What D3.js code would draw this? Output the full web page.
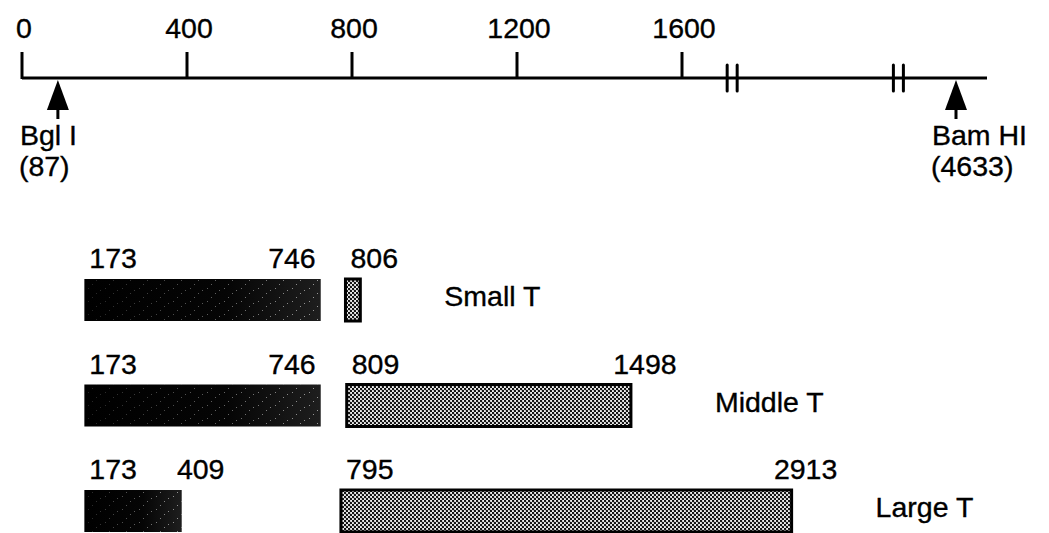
<!DOCTYPE html>
<html>
<head>
<meta charset="utf-8">
<script src="https://cdn.jsdelivr.net/npm/d3@7"></script>
<style>
  body { margin: 0; background: #fff; }
  svg { display: block; font-family: "Liberation Sans", Arial, Helvetica, sans-serif; }
  text { stroke: #000; stroke-width: 0.35px; }
</style>
</head>
<body>
<svg id="chart" width="1049" height="533"></svg>
<script>
// ====================================
// Données de la carte (positions en nucléotides)
// ====================================
const tickValues = [0, 400, 800, 1200, 1600];
const axisEnd = 4930;
const axisBreaks = [2100, 3940];

const siteNames = ["Bgl I", "Bam HI"];
const sitePositions = [87, 4633];

const antigens = ["Small T", "Middle T", "Large T"];
// exons de chaque antigène : [début, fin]
const smallTExons = [[173, 746], [806, 842]];
const middleTExons = [[173, 746], [809, 1498]];
const largeTExons = [[173, 409], [795, 2913]];
// fin affichée ou non au-dessus de chaque exon
const smallTEndShown = [true, false];
const middleTEndShown = [true, true];
const largeTEndShown = [true, true];

const exonSets = [smallTExons, middleTExons, largeTExons];
const endShownSets = [smallTEndShown, middleTEndShown, largeTEndShown];

// ====================================
// Échelles
// ====================================
const svg = d3.select("#chart");
const FONT = 28.5;

// l'axe est coupé après 1600 : échelle linéaire par morceaux
const x = d3.scaleLinear()
    .domain([0, 1600, 4633, axisEnd])
    .range([22, 682, 956, 987]);

const axisY = 78;
const rowTop = d3.scalePoint()
    .domain(antigens)
    .range([279, 490]);
const barH = 42;
const exonShift = -9;   // les exons sont dessinés un peu à gauche de l'axe

// ====================================
// Motifs de remplissage
// ====================================
const defs = svg.append("defs");

const grad = defs.append("linearGradient")
    .attr("id", "darkExon")
    .attr("x1", "0%").attr("x2", "100%");
grad.append("stop").attr("offset", "0%").attr("stop-color", "#000");
grad.append("stop").attr("offset", "60%").attr("stop-color", "#050505");
grad.append("stop").attr("offset", "100%").attr("stop-color", "#1e1e1e");

// mouchetures claires sur les exons foncés
const speck = defs.append("pattern")
    .attr("id", "speckle")
    .attr("patternUnits", "userSpaceOnUse")
    .attr("width", 17).attr("height", 13);
[[3, 2], [11, 7], [7, 11], [15, 4]].forEach(p => {
    speck.append("rect")
        .attr("x", p[0]).attr("y", p[1])
        .attr("width", 1).attr("height", 1)
        .attr("fill", "#fff").attr("opacity", 0.55);
});

const fadeMask = defs.append("linearGradient")
    .attr("id", "fadeGrad")
    .attr("x1", "0%").attr("x2", "100%");
fadeMask.append("stop").attr("offset", "0%").attr("stop-color", "#fff").attr("stop-opacity", 0.25);
fadeMask.append("stop").attr("offset", "100%").attr("stop-color", "#fff").attr("stop-opacity", 1);
defs.append("mask")
    .attr("id", "fade")
    .attr("maskContentUnits", "objectBoundingBox")
    .append("rect")
    .attr("width", 1).attr("height", 1)
    .attr("fill", "url(#fadeGrad)");

const dots = defs.append("pattern")
    .attr("id", "dotted")
    .attr("patternUnits", "userSpaceOnUse")
    .attr("width", 4).attr("height", 4);
dots.append("rect").attr("width", 4).attr("height", 4).attr("fill", "#eee");
dots.append("circle").attr("cx", 1).attr("cy", 1).attr("r", 1.25).attr("fill", "#111");
dots.append("circle").attr("cx", 3).attr("cy", 3).attr("r", 1.25).attr("fill", "#111");

// ====================================
// Axe en nucléotides
// ====================================
const axisG = svg.append("g");

axisG.append("line")
    .attr("x1", x(0)).attr("x2", x(axisEnd))
    .attr("y1", axisY).attr("y2", axisY)
    .attr("stroke", "#000").attr("stroke-width", 3);

axisG.selectAll("line.tick")
    .data(tickValues)
    .join("line")
    .attr("class", "tick")
    .attr("x1", d => x(d)).attr("x2", d => x(d))
    .attr("y1", axisY - 26).attr("y2", axisY + 1)
    .attr("stroke", "#000").attr("stroke-width", 3);

axisG.selectAll("text.tick-label")
    .data(tickValues)
    .join("text")
    .attr("class", "tick-label")
    .attr("x", d => x(d) + 2)
    .attr("y", 38)
    .attr("text-anchor", "middle")
    .style("font-size", FONT + "px")
    .text(d => d);

// marques de coupure (double barre)
axisBreaks.forEach(b => {
    [0, 10].forEach(dx => {
        axisG.append("line")
            .attr("x1", x(b) + dx).attr("x2", x(b) + dx)
            .attr("y1", axisY - 13).attr("y2", axisY + 13)
            .attr("stroke", "#000").attr("stroke-width", 3)
            .attr("stroke-linecap", "round");
    });
});

// ====================================
// Sites de restriction
// ====================================
const siteG = svg.selectAll("g.site")
    .data(siteNames.map((n, i) => ({ name: n, pos: sitePositions[i], i })))
    .join("g")
    .attr("class", "site")
    .attr("transform", d => `translate(${x(d.pos)},0)`);

siteG.append("path")
    .attr("d", `M0,${axisY + 2} L-11,${axisY + 32} L11,${axisY + 32} Z`)
    .attr("fill", "#000");
siteG.append("rect")
    .attr("x", -1.5).attr("y", axisY + 30)
    .attr("width", 3).attr("height", 11)
    .attr("fill", "#000");

siteG.each(function(d) {
    const g = d3.select(this);
    const dx = d.i === 0 ? -38 : -24;
    g.append("text")
        .attr("x", dx).attr("y", 145)
        .style("font-size", FONT + "px")
        .text(d.name);
    g.append("text")
        .attr("x", dx - 1).attr("y", 176)
        .style("font-size", FONT + "px")
        .text(`(${d.pos})`);
});

// ====================================
// Exons des antigènes T
// ====================================
const bx = v => x(v) + exonShift;

antigens.forEach((name, r) => {
    const exons = exonSets[r];
    const endShown = endShownSets[r];
    const top = rowTop(name);
    const row = svg.append("g").attr("class", "row");

    const bars = row.selectAll("g.exon")
        .data(exons)
        .join("g")
        .attr("class", "exon");

    bars.append("rect")
        .attr("x", d => bx(d[0]))
        .attr("y", top)
        .attr("width", d => bx(d[1]) - bx(d[0]))
        .attr("height", barH)
        .attr("fill", (d, i) => i === 0 ? "url(#darkExon)" : "url(#dotted)")
        .attr("stroke", "#000")
        .attr("stroke-width", (d, i) => i === 0 ? 0 : 3);

    bars.filter((d, i) => i === 0)
        .append("rect")
        .attr("x", d => bx(d[0]))
        .attr("y", top)
        .attr("width", d => bx(d[1]) - bx(d[0]))
        .attr("height", barH)
        .attr("fill", "url(#speckle)")
        .attr("mask", "url(#fade)");

    exons.forEach((ex, i) => {
        const startLbl = row.append("text")
            .attr("x", bx(ex[0]) + 5)
            .attr("y", top - 11)
            .style("font-size", FONT + "px")
            .text(ex[0]);
        const startRight = bx(ex[0]) + 5 + startLbl.node().getComputedTextLength();

        if (endShown[i]) {
            const endLbl = row.append("text")
                .attr("y", top - 11)
                .style("font-size", FONT + "px")
                .text(ex[1]);
            const w = endLbl.node().getComputedTextLength();
            // premier exon : calé sur la fin ; second : centré sur la fin
            let left = i === 0 ? bx(ex[1]) - 5 - w : bx(ex[1]) + 14 - w / 2;
            left = Math.max(left, startRight + 40);
            endLbl.attr("x", left);
        }
    });

    const last = exons[exons.length - 1];
    row.append("text")
        .attr("x", bx(last[1]) + 84)
        .attr("y", top + barH / 2 + 6)
        .style("font-size", FONT + "px")
        .text(name);
});
</script>
</body>
</html>
